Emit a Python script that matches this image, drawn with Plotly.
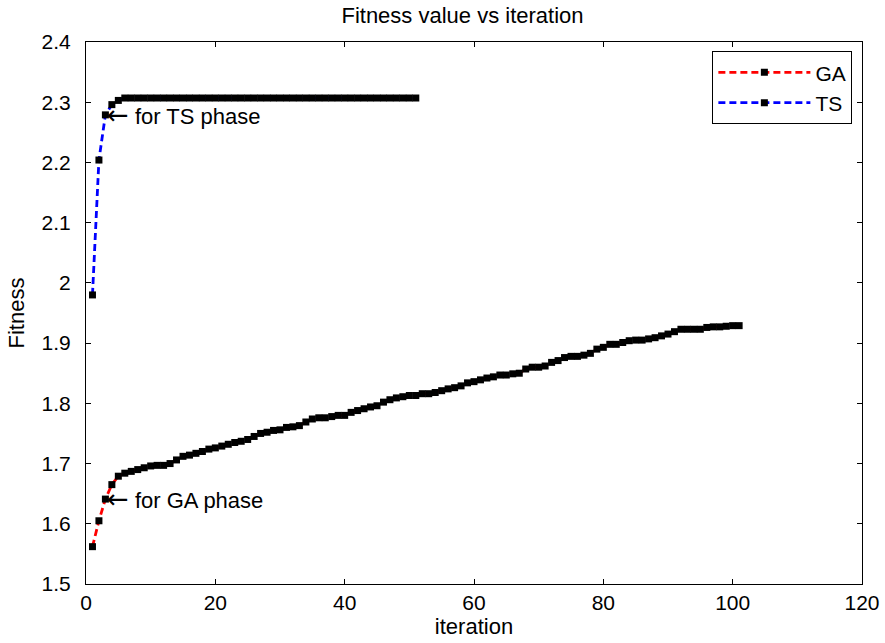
import plotly.graph_objects as go

ga_iter = list(range(1, 102))
ga_fitness = [
    1.562, 1.605, 1.641, 1.665, 1.679, 1.684, 1.687, 1.690, 1.693, 1.696,
    1.697, 1.697, 1.700, 1.706, 1.712, 1.714, 1.717, 1.720, 1.724, 1.726,
    1.729, 1.732, 1.735, 1.737, 1.740, 1.745, 1.750, 1.752, 1.755, 1.756,
    1.760, 1.761, 1.763, 1.769, 1.774, 1.776, 1.776, 1.778, 1.780, 1.780,
    1.785, 1.788, 1.791, 1.794, 1.796, 1.802, 1.806, 1.809, 1.811, 1.813,
    1.813, 1.816, 1.816, 1.818, 1.821, 1.824, 1.826, 1.829, 1.834, 1.836,
    1.839, 1.842, 1.844, 1.847, 1.847, 1.849, 1.850, 1.857, 1.860, 1.860,
    1.862, 1.868, 1.871, 1.876, 1.878, 1.878, 1.880, 1.883, 1.890, 1.893,
    1.898, 1.898, 1.901, 1.904, 1.905, 1.905, 1.907, 1.909, 1.912, 1.915,
    1.919, 1.923, 1.923, 1.923, 1.923, 1.926, 1.927, 1.927, 1.928, 1.929,
    1.929,
]
ts_iter = list(range(1, 52))
ts_fitness = [1.980, 2.204, 2.279, 2.296, 2.303] + [2.307] * 46

x_ticks = [0, 20, 40, 60, 80, 100, 120]
y_ticks = [1.5, 1.6, 1.7, 1.8, 1.9, 2.0, 2.1, 2.2, 2.3, 2.4]
y_tick_labels = ["1.5", "1.6", "1.7", "1.8", "1.9", "2", "2.1", "2.2", "2.3", "2.4"]

FONT = "Liberation Sans, Arial, sans-serif"
ARROW = '<span style="font-family:DejaVu Sans;font-size:26px">\u2190</span>'

fig = go.Figure()
fig.add_trace(go.Scatter(
    x=ga_iter, y=ga_fitness, name="GA", mode="lines+markers",
    line=dict(color="#ff0000", width=2.8, dash="7px,4px"),
    marker=dict(symbol="square", size=7, color="black"),
))
fig.add_trace(go.Scatter(
    x=ts_iter, y=ts_fitness, name="TS", mode="lines+markers",
    line=dict(color="#0000ff", width=2.8, dash="7px,4px"),
    marker=dict(symbol="square", size=7, color="black"),
))

fig.add_annotation(x=ts_iter[2], y=ts_fitness[2], text=ARROW + " for TS phase",
                   showarrow=False, xanchor="left", yanchor="middle",
                   font=dict(family=FONT, size=22, color="black"))
fig.add_annotation(x=ga_iter[2], y=ga_fitness[2], text=ARROW + " for GA phase",
                   showarrow=False, xanchor="left", yanchor="middle",
                   font=dict(family=FONT, size=22, color="black"))

axis_common = dict(
    showline=True, linecolor="black", linewidth=1, mirror="allticks",
    ticks="inside", ticklen=5, tickcolor="black", showgrid=False, zeroline=False,
    tickfont=dict(family=FONT, size=21, color="black"), automargin=False,
)

fig.update_layout(
    width=885, height=643,
    margin=dict(l=86, r=23, t=42, b=59),
    paper_bgcolor="white", plot_bgcolor="white",
    font=dict(family=FONT, size=21, color="black"),
    title=dict(text="Fitness value vs iteration", x=0.5226, xanchor="center", xref="container",
               y=0.976, yanchor="middle", yref="container",
               font=dict(family=FONT, size=22, color="black"), automargin=False),
    xaxis=dict(range=[0, 120], tickvals=x_ticks,
               title=dict(text="iteration", standoff=4, font=dict(family=FONT, size=22)),
               **axis_common),
    yaxis=dict(range=[1.5, 2.4], tickvals=y_ticks, ticktext=y_tick_labels,
               ticklabelstandoff=10,
               title=dict(text="Fitness", standoff=10, font=dict(family=FONT, size=22)),
               **axis_common),
    legend=dict(x=0.9876, y=0.983, xanchor="right", yanchor="top",
                bordercolor="black", borderwidth=1, bgcolor="white",
                font=dict(family=FONT, size=21, color="black"), itemwidth=92,
                tracegroupgap=0),
    showlegend=True,
)

fig.write_html("out.html")
